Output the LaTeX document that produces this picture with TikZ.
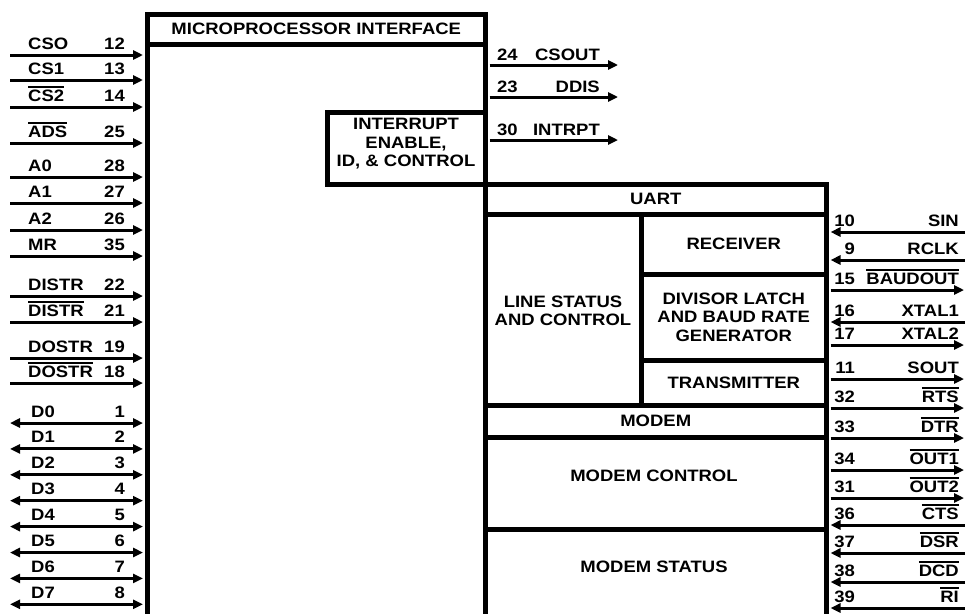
\documentclass[tikz,border=0pt]{standalone}
\usepackage{fontspec}
\setmainfont{Liberation Sans}[FakeStretch=1.12]
\usetikzlibrary{arrows.meta}
\newcommand\olbar[1]{\setbox0\hbox{#1}\rlap{\rule[\dimexpr\ht0+1.8pt\relax]{\wd0}{1.5pt}}\box0}
\tikzset{
  tri/.tip={Triangle[length=10pt,width=9pt]},
  box/.style={draw,line width=4.5pt,inner sep=0pt,anchor=north west},
  pin/.style={line width=3pt},
  lbl/.style={inner sep=0pt,font=\fontsize{16.5}{18}\selectfont\bfseries},
  blk/.style={inner sep=0pt,align=center,font=\fontsize{16.5}{18.5}\selectfont\bfseries},
}
\begin{document}
\begin{tikzpicture}[x=1pt,y=-1pt]
\useasboundingbox (0,0) rectangle (965,613);
\clip (0,0) rectangle (965,613);
% blocks
\node[box,minimum width=338pt,minimum height=700pt] (mpi) at (145,12) {};
\node[box,minimum width=338pt,minimum height=30pt] (mpih) at (145,12) {};
\node[blk] (mpit) at (mpih.center) {MICROPROCESSOR INTERFACE};
\node[box,minimum width=158pt,minimum height=72pt] (intr) at (325,110) {};
\node[blk] (intrt) at (406,144) {INTERRUPT\\ENABLE,\\ID, \& CONTROL};
\node[box,minimum width=341pt,minimum height=500pt] (uart) at (483,182) {};
\node[box,minimum width=341pt,minimum height=30pt] (uarth) at (483,182) {};
\node[blk] (uartt) at (uarth.center) {UART};
\node[box,minimum width=156pt,minimum height=191pt] (lsc) at (483,212) {};
\node[blk] (lsct) at (563,311) {LINE STATUS\\AND CONTROL};
\node[box,minimum width=185pt,minimum height=60pt] (rcv) at (639,212) {};
\node[blk] (rcvt) at (rcv.center) {RECEIVER};
\node[box,minimum width=185pt,minimum height=86pt] (dvs) at (639,272) {};
\node[blk] (dvst) at (dvs.center) {DIVISOR LATCH\\AND BAUD RATE\\GENERATOR};
\node[box,minimum width=185pt,minimum height=45pt] (tx) at (639,358) {};
\node[blk] (txt) at (tx.center) {TRANSMITTER};
\node[box,minimum width=341pt,minimum height=32pt] (mdm) at (483,403) {};
\node[blk] (mdmt) at (mdm.center) {MODEM};
\node[box,minimum width=341pt,minimum height=92pt] (mc) at (483,435) {};
\node[blk] (mct) at (654,476) {MODEM CONTROL};
\node[box,minimum width=341pt,minimum height=200pt] (ms) at (483,527) {};
\node[blk] (mst) at (654,567) {MODEM STATUS};
% left inputs
\foreach \y/\nm/\nu in {55/CSO/12, 80/CS1/13, 107/{\olbar{CS2}}/14, 143/{\olbar{ADS}}/25,
  177/A0/28, 203/A1/27, 230/A2/26, 256/MR/35, 296/DISTR/22, 322/{\olbar{DISTR}}/21,
  358/DOSTR/19, 383/{\olbar{DOSTR}}/18} {
  \coordinate (pL\nu) at (10,\y);
  \draw[pin,-tri,shorten >=2pt] (pL\nu) -- (pL\nu -| mpi.west);
  \node[lbl,anchor=base west] (nL\nu) at (28,\y-6) {\nm};
  \node[lbl,anchor=base east] (uL\nu) at (125,\y-6) {\nu};
}
% data bus
\foreach \y/\nm/\nu in {423/D0/1, 448.9/D1/2, 474.8/D2/3, 500.7/D3/4, 526.6/D4/5,
  552.5/D5/6, 578.4/D6/7, 604.3/D7/8} {
  \coordinate (pL\nu) at (10,\y);
  \draw[pin,tri-tri,shorten >=2pt] (pL\nu) -- (pL\nu -| mpi.west);
  \node[lbl,anchor=base west] (nL\nu) at (31,\y-6) {\nm};
  \node[lbl,anchor=base east] (uL\nu) at (125,\y-6) {\nu};
}
% top outputs
\foreach \y/\nm/\nu in {65/CSOUT/24, 97/DDIS/23, 140/INTRPT/30} {
  \coordinate (pT\nu) at (618,\y);
  \draw[pin,-tri,shorten <=2pt] (pT\nu -| mpi.east) -- (pT\nu);
  \node[lbl,anchor=base west] (uT\nu) at (497,\y-5) {\nu};
  \node[lbl,anchor=base east] (nT\nu) at (600,\y-5) {\nm};
}
% right inputs
\foreach \y/\nm/\nu in {232/SIN/10, 260/RCLK/9, 322/XTAL1/16, 525/{\olbar{CTS}}/36,
  553/{\olbar{DSR}}/37, 582/{\olbar{DCD}}/38, 608/{\olbar{RI}}/39} {
  \coordinate (pR\nu) at (965,\y);
  \draw[pin,-tri,shorten >=2pt] (pR\nu) -- (pR\nu -| uart.east);
  \node[lbl,anchor=base east] (uR\nu) at (855,\y-6) {\nu};
  \node[lbl,anchor=base east] (nR\nu) at (959,\y-6) {\nm};
}
% right outputs
\foreach \y/\nm/\nu in {290/{\olbar{BAUDOUT}}/15, 345/XTAL2/17, 379/SOUT/11,
  408/{\olbar{RTS}}/32, 438/{\olbar{DTR}}/33, 470/{\olbar{OUT1}}/34, 498/{\olbar{OUT2}}/31} {
  \coordinate (pR\nu) at (964,\y);
  \draw[pin,-tri,shorten <=2pt] (pR\nu -| uart.east) -- (pR\nu);
  \node[lbl,anchor=base east] (uR\nu) at (855,\y-6) {\nu};
  \node[lbl,anchor=base east] (nR\nu) at (959,\y-6) {\nm};
}
\end{tikzpicture}
\end{document}
